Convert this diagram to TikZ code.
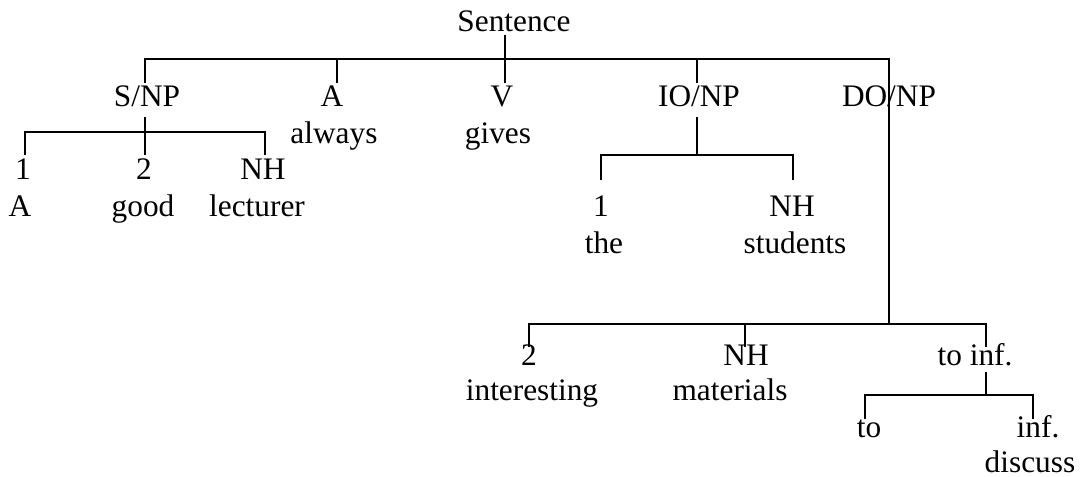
\documentclass[tikz,border=0pt]{standalone}
\usepackage{fontspec}
\setmainfont{Liberation Serif}
\usepackage{xcolor}
\usepackage{tikz}
\usetikzlibrary{math}

\begin{document}
\begin{tikzpicture}[x=0.75pt,y=-0.75pt,line width=1.2pt,
	lbl/.style={inner sep=0pt,anchor=base,font=\fontsize{23.5}{28}\selectfont}]
\useasboundingbox (0,0) rectangle (1082,477);
\tikzmath{
	\ba = 59;\bb = 132;\bc = 155;\bd = 324;\be = 395;
	\da = 24;\db = 23;
	% main bar
	{\coordinate (s0) at (505,35);};
	{\coordinate (s1) at (505,\ba+\da);};
	{\coordinate (m0) at (145,\ba+\da);};
	{\coordinate (m1) at (145,\ba);};
	{\coordinate (m2) at (889,\ba);};
	{\coordinate (m3) at (889,\bd);};
	{\coordinate (a0) at (337,\ba);};
	{\coordinate (a1) at (337,\ba+\da);};
	{\coordinate (i0) at (697,\ba);};
	{\coordinate (i1) at (697,\ba+\da);};
	{\draw plot[] coordinates {(s0) (s1)};};
	{\draw plot[] coordinates {(m0) (m1) (m2) (m3)};};
	{\draw plot[] coordinates {(a0) (a1)};};
	{\draw plot[] coordinates {(i0) (i1)};};
	%
	{\node[lbl] (sent) at (514,32) {Sentence};};
	{\node[lbl] (snp) at (147,107) {S/NP};};
	{\node[lbl] (adv) at (332,107) {A};};
	{\node[lbl] (v) at (502,107) {V};};
	{\node[lbl] (ionp) at (699,107) {IO/NP};};
	{\node[lbl] (donp) at (889,107) {DO/NP};};
	{\node[lbl] (always) at (334,144) {always};};
	{\node[lbl] (gives) at (498,144) {gives};};
	% S/NP
	{\coordinate (p0) at (145,117);};
	{\coordinate (p1) at (145,\bc);};
	{\coordinate (p2) at (25,\bc);};
	{\coordinate (p3) at (25,\bb);};
	{\coordinate (p4) at (265,\bb);};
	{\coordinate (p5) at (265,\bc);};
	{\draw plot[] coordinates {(p0) (p1)};};
	{\draw plot[] coordinates {(p2) (p3) (p4) (p5)};};
	{\node[lbl] (sone) at (23,180) {1};};
	{\node[lbl] (stwo) at (144,180) {2};};
	{\node[lbl] (snh) at (263,180) {NH};};
	{\node[lbl] (sa) at (20,217) {A};};
	{\node[lbl] (good) at (143,217) {good};};
	{\node[lbl] (lect) at (257,217) {lecturer};};
	% IO/NP
	{\coordinate (q0) at (697,117);};
	{\coordinate (q1) at (697,\bc);};
	{\coordinate (q2) at (601,\bc+25);};
	{\coordinate (q3) at (601,\bc);};
	{\coordinate (q4) at (793,\bc);};
	{\coordinate (q5) at (793,\bc+25);};
	{\draw plot[] coordinates {(q0) (q1)};};
	{\draw plot[] coordinates {(q2) (q3) (q4) (q5)};};
	{\node[lbl] (ione) at (601,217) {1};};
	{\node[lbl] (ionh) at (792,217) {NH};};
	{\node[lbl] (the) at (604,254) {the};};
	{\node[lbl] (stud) at (795,254) {students};};
	% DO/NP
	{\coordinate (r0) at (529,\bd+\db);};
	{\coordinate (r1) at (529,\bd);};
	{\coordinate (r2) at (986,\bd);};
	{\coordinate (r3) at (986,\bd+\db);};
	{\coordinate (r4) at (745,\bd);};
	{\coordinate (r5) at (745,\bd+\db);};
	{\draw plot[] coordinates {(r0) (r1) (r2) (r3)};};
	{\draw plot[] coordinates {(r4) (r5)};};
	{\node[lbl] (dtwo) at (529,365) {2};};
	{\node[lbl] (dnh) at (746,365) {NH};};
	{\node[lbl] (toinf) at (975,365) {to inf.};};
	{\node[lbl] (inter) at (532,400) {interesting};};
	{\node[lbl] (mat) at (730,400) {materials};};
	% to inf.
	{\coordinate (t0) at (986,372);};
	{\coordinate (t1) at (986,\be);};
	{\coordinate (t2) at (865,\be+24);};
	{\coordinate (t3) at (865,\be);};
	{\coordinate (t4) at (1033,\be);};
	{\coordinate (t5) at (1033,\be+24);};
	{\draw plot[] coordinates {(t0) (t1)};};
	{\draw plot[] coordinates {(t2) (t3) (t4) (t5)};};
	{\node[lbl] (to) at (869,437) {to};};
	{\node[lbl] (inf) at (1038,437) {inf.};};
	{\node[lbl] (disc) at (1030,472) {discuss};};
};
\end{tikzpicture}
\end{document}
